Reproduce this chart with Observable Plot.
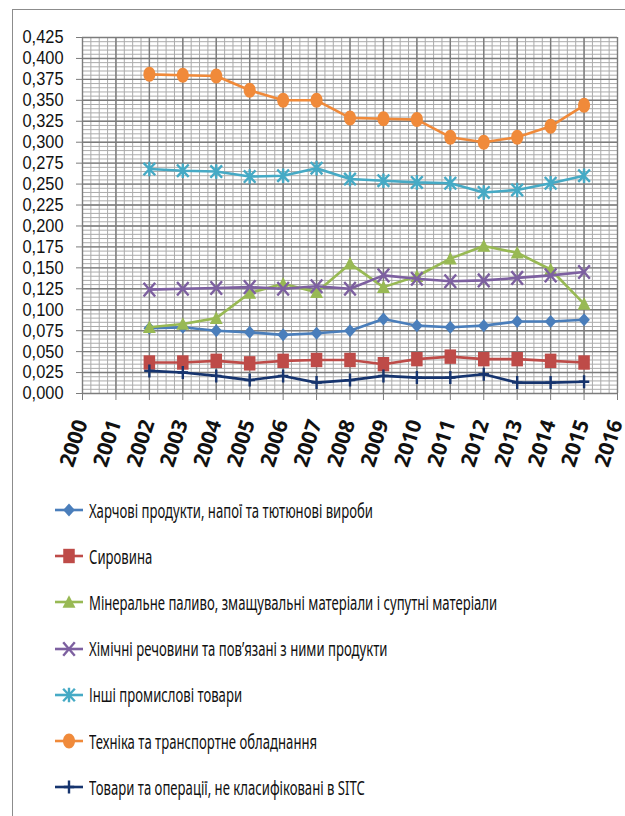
<!DOCTYPE html>
<html>
<head>
<meta charset="utf-8">
<script src="https://cdn.jsdelivr.net/npm/d3@7"></script>
<script src="https://cdn.jsdelivr.net/npm/@observablehq/plot@0.6"></script>
<style>
  html, body { margin: 0; padding: 0; background: #fff; }
  #wrap { position: relative; width: 625px; height: 816px; overflow: hidden;
          font-family: "Noto Sans", "DejaVu Sans", sans-serif; color: #111; }
  #frame { position: absolute; left: 12px; top: 9px; width: 700px; height: 900px;
           border: 1.5px solid #8c8c8c; box-sizing: border-box; }
  #chart { position: absolute; left: 0; top: 0; }
  .leg { position: absolute; left: 52px; height: 30px; display: flex; align-items: center;
         font-size: 19.5px; white-space: nowrap; }
  .leg svg { margin-right: 3px; flex: none; }
  .leg span { display: inline-block; transform-origin: 0 50%; }
</style>
</head>
<body>
<div id="wrap">
  <div id="frame"></div>
  <div id="chart"></div>
  <div id="legend"></div>
</div>
<script>
// ---------- data ----------
const years = [2002, 2003, 2004, 2005, 2006, 2007, 2008, 2009, 2010, 2011, 2012, 2013, 2014, 2015];
const xTicks = [2000, 2001, 2002, 2003, 2004, 2005, 2006, 2007, 2008, 2009, 2010, 2011, 2012, 2013, 2014, 2015, 2016];
const yTicks = [0, 0.025, 0.05, 0.075, 0.1, 0.125, 0.15, 0.175, 0.2, 0.225, 0.25, 0.275, 0.3, 0.325, 0.35, 0.375, 0.4, 0.425];

const seriesNames = [
  "Харчові продукти, напої та тютюнові вироби",
  "Сировина",
  "Мінеральне паливо, змащувальні матеріали і супутні матеріали",
  "Хімічні речовини та пов’язані з ними продукти",
  "Інші промислові товари",
  "Техніка та транспортне обладнання",
  "Товари та операції, не класифіковані в SITC"
];
const food         = [0.078, 0.079, 0.075, 0.073, 0.070, 0.072, 0.075, 0.089, 0.081, 0.079, 0.081, 0.086, 0.086, 0.088];
const raw          = [0.037, 0.037, 0.039, 0.036, 0.039, 0.040, 0.040, 0.035, 0.041, 0.044, 0.041, 0.041, 0.039, 0.037];
const fuel         = [0.079, 0.083, 0.090, 0.120, 0.131, 0.121, 0.155, 0.127, 0.140, 0.161, 0.176, 0.168, 0.148, 0.107];
const chemicals    = [0.124, 0.125, 0.126, 0.127, 0.125, 0.128, 0.125, 0.141, 0.137, 0.134, 0.135, 0.138, 0.141, 0.145];
const otherGoods   = [0.268, 0.266, 0.265, 0.259, 0.260, 0.269, 0.256, 0.254, 0.252, 0.251, 0.240, 0.243, 0.251, 0.260];
const machinery    = [0.381, 0.380, 0.379, 0.362, 0.350, 0.350, 0.329, 0.328, 0.327, 0.306, 0.300, 0.306, 0.319, 0.344];
const unclassified = [0.027, 0.025, 0.021, 0.016, 0.021, 0.013, 0.016, 0.021, 0.019, 0.019, 0.023, 0.013, 0.013, 0.014];

const seriesValues = [food, raw, fuel, chemicals, otherGoods, machinery, unclassified];
const seriesColors = ["#4A7EBB", "#BE4B48", "#98B954", "#7D60A0", "#46AAC5", "#F08A3A", "#16346E"];

// ---------- marker shapes (drawn slightly narrow, like the source) ----------
const A = size => Math.sqrt(size / Math.PI);
const symDiamond = { draw(c, s) { const a = A(s); c.moveTo(0, -a); c.lineTo(0.9 * a, 0); c.lineTo(0, a); c.lineTo(-0.9 * a, 0); c.closePath(); } };
const symSquare = { draw(c, s) { const a = A(s), w = 0.8 * a; c.moveTo(-w, -a); c.lineTo(w, -a); c.lineTo(w, a); c.lineTo(-w, a); c.closePath(); } };
const symTriangle = { draw(c, s) { const a = A(s); c.moveTo(0, -a); c.lineTo(0.95 * a, 0.85 * a); c.lineTo(-0.95 * a, 0.85 * a); c.closePath(); } };
const symTimes = { draw(c, s) { const a = A(s), w = 0.85 * a; c.moveTo(-w, -a); c.lineTo(w, a); c.moveTo(-w, a); c.lineTo(w, -a); } };
const symStar = { draw(c, s) { const a = A(s), w = 0.8 * a; c.moveTo(-w, -0.85 * a); c.lineTo(w, 0.85 * a); c.moveTo(-w, 0.85 * a); c.lineTo(w, -0.85 * a); c.moveTo(0, -a); c.lineTo(0, a); } };
const symEllipse = { draw(c, s) { const ry = A(s), rx = 0.8 * ry, k = 0.5523;
  c.moveTo(rx, 0);
  c.bezierCurveTo(rx, k * ry, k * rx, ry, 0, ry);
  c.bezierCurveTo(-k * rx, ry, -rx, k * ry, -rx, 0);
  c.bezierCurveTo(-rx, -k * ry, -k * rx, -ry, 0, -ry);
  c.bezierCurveTo(k * rx, -ry, rx, -k * ry, rx, 0);
  c.closePath(); } };
const symPlus = { draw(c, s) { const a = A(s), w = 0.8 * a; c.moveTo(-w, 0); c.lineTo(w, 0); c.moveTo(0, -a); c.lineTo(0, a); } };

const seriesSymbols = [symDiamond, symSquare, symTriangle, symTimes, symStar, symEllipse, symPlus];
const seriesSize = [6.5, 7.2, 6.8, 6.8, 7.3, 7.5, 6.5];
const seriesFilled = [true, true, true, false, false, true, false];

// ---------- grid helpers ----------
const minorY = d3.range(0, 86).map(i => i * 0.005);
const minorX = d3.range(0, 65).map(i => 2000 + i * 0.25);

const FONT = '"Noto Sans", "DejaVu Sans", sans-serif';
const YFONT = '"Liberation Sans", Arial, sans-serif';

const marks = [
  Plot.ruleY(minorY, { stroke: "#ababab", strokeWidth: 1 }),
  Plot.ruleX(minorX, { stroke: "#ababab", strokeWidth: 1 }),
  Plot.ruleY(yTicks, { stroke: "#7c7c7c", strokeWidth: 1.4 }),
  Plot.ruleX(xTicks, { stroke: "#7c7c7c", strokeWidth: 1.4 }),
  Plot.axisY({ ticks: yTicks, tickFormat: d => d.toFixed(3).replace(".", ","), tickSize: 6, tickPadding: 13,
               stroke: "#7c7c7c", fill: "#111", fontSize: 18.5, fontFamily: YFONT, label: null }),
  Plot.axisX({ ticks: xTicks, tickFormat: () => "", tickSize: 7, stroke: "#7c7c7c", label: null }),
  Plot.text(xTicks, { x: d => d, y: yTicks[0], text: d => String(d), rotate: -72, textAnchor: "end",
                      lineAnchor: "middle", dx: -1, dy: 27, fontSize: 21, fontWeight: "bold", fill: "#111",
                      ariaLabel: "year-labels", fontFamily: FONT })
];

seriesValues.forEach((vals, s) => {
  const color = seriesColors[s];
  marks.push(Plot.line(years, { x: d => d, y: (d, i) => vals[i], stroke: color, strokeWidth: 2.6, curve: "linear" }));
  marks.push(Plot.dot(years, {
    x: d => d, y: (d, i) => vals[i], symbol: seriesSymbols[s], r: seriesSize[s],
    fill: seriesFilled[s] ? color : "none", stroke: seriesFilled[s] ? "none" : color,
    strokeWidth: seriesFilled[s] ? 0 : 2.4
  }));
});

const chart = Plot.plot({
  width: 625, height: 480,
  marginLeft: 82, marginRight: 8, marginTop: 37, marginBottom: 87,
  x: { domain: [2000, 2016] },
  y: { domain: [0, 0.425] },
  style: { fontFamily: FONT, fontSize: "18.5px", color: "#111", background: "transparent", overflow: "visible" },
  marks
});
document.getElementById("chart").appendChild(chart);

// squeeze the rotated year labels horizontally, like the source picture
chart.querySelectorAll('g[aria-label="year-labels"] text').forEach(t => {
  const tr = t.getAttribute("transform") || "";
  t.setAttribute("transform", tr.replace("rotate(", "scale(0.68,1) rotate("));
});
// narrow y tick labels (source uses a condensed face): "0,425" about 41px wide
const yTexts = Array.from(chart.querySelectorAll('g[aria-label="y-axis tick label"] text'));
if (yTexts.length) {
  const widest = d3.max(yTexts, t => t.getComputedTextLength());
  const ky = Math.min(1, 41 / widest);
  yTexts.forEach(t => {
    const tr = t.getAttribute("transform") || "";
    t.setAttribute("transform", (tr + ` scale(${ky},1)`).trim());
  });
}

// ---------- legend ----------
const legend = document.getElementById("legend");
const spans = [];
seriesNames.forEach((name, s) => {
  const row = document.createElement("div");
  row.className = "leg";
  row.style.top = (495 + s * 46.2) + "px";
  const sv = d3.create("svg").attr("width", 34).attr("height", 30);
  sv.append("line").attr("x1", 3).attr("x2", 31).attr("y1", 15).attr("y2", 15)
    .attr("stroke", seriesColors[s]).attr("stroke-width", 2.6);
  const a = seriesSize[s];
  sv.append("path").attr("transform", "translate(17,15)")
    .attr("d", d3.symbol(seriesSymbols[s], Math.PI * a * a)())
    .attr("fill", seriesFilled[s] ? seriesColors[s] : "none")
    .attr("stroke", seriesFilled[s] ? "none" : seriesColors[s])
    .attr("stroke-width", 2.4);
  row.appendChild(sv.node());
  const span = document.createElement("span");
  span.textContent = name;
  row.appendChild(span);
  legend.appendChild(row);
  spans.push(span);
});
// condensed look: first entry spans about 284px in the source
const kx = 284 / spans[0].getBoundingClientRect().width;
spans.forEach(sp => { sp.style.transform = `scaleX(${kx})`; });
</script>
</body>
</html>
